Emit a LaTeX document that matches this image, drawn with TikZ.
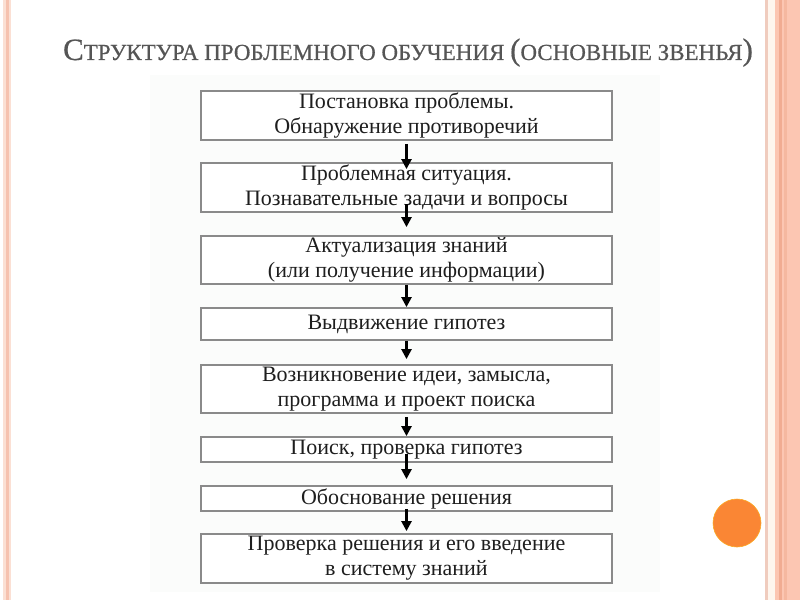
\documentclass[tikz,border=0pt]{standalone}
\usepackage{fontspec}
\setmainfont{Liberation Serif}[FakeBold=0.6]
\newfontfamily\plainserif{Liberation Serif}
\usetikzlibrary{arrows.meta}
\definecolor{boxline}{HTML}{8A8A8A}
\definecolor{txt}{HTML}{1E1E1E}
\definecolor{titlegray}{HTML}{555555}
\definecolor{stripeA}{HTML}{FBE0D4}
\definecolor{stripeB}{HTML}{F6C2AF}
\definecolor{bandA}{HTML}{FCC6B2}
\definecolor{bandB}{HTML}{F1AC92}
\definecolor{bandC}{HTML}{F5B8A0}
\definecolor{cream}{HTML}{FEF6EE}
\definecolor{thinline}{HTML}{F0CCBE}
\definecolor{dot}{HTML}{FA8634}
\definecolor{panel}{HTML}{FBFCFB}
\tikzset{
  stepbox/.style={draw=boxline, line width=1.8bp, fill=white, minimum width=411bp,
    inner sep=0pt, align=center, text=txt, font=\plainserif\fontsize{22bp}{25bp}\selectfont},
  flow/.style={line width=2.4bp, draw=black, -{Triangle[width=10bp,length=10bp]}}
}
\begin{document}
\begin{tikzpicture}[x=1bp,y=-1bp]
\useasboundingbox (0,0) rectangle (800,600);
\fill[white] (0,0) rectangle (800,600);
% decorative stripes
\fill[stripeA] (3,0) rectangle (11,600);
\fill[stripeB] (6,0) rectangle (9,600);
\fill[thinline] (765,0) rectangle (768,600);
\fill[cream] (768,0) rectangle (775,600);
\fill[bandA] (775,0) rectangle (800,600);
\fill[bandB] (779,0) rectangle (782,600);
\fill[bandC] (784,0) rectangle (787,600);
% faint panel
\fill[panel] (150,75) rectangle (660,592);
% title
\node[anchor=base, text=titlegray, inner sep=0] (title) at (408,60)
  {{\fontsize{31bp}{31bp}\selectfont С}{\fontsize{23bp}{23bp}\selectfont ТРУКТУРА ПРОБЛЕМНОГО ОБУЧЕНИЯ }{\fontsize{31bp}{31bp}\selectfont (}{\fontsize{23bp}{23bp}\selectfont ОСНОВНЫЕ ЗВЕНЬЯ}{\fontsize{31bp}{31bp}\selectfont )}};
% boxes
\node[stepbox, minimum height=49bp] (b1) at (406.5,115.5) {Постановка проблемы.\\Обнаружение противоречий};
\node[stepbox, minimum height=49bp] (b2) at (406.5,187.5) {Проблемная ситуация.\\Познавательные задачи и вопросы};
\node[stepbox, minimum height=48bp] (b3) at (406.5,260) {Актуализация знаний\\(или получение информации)};
\node[stepbox, minimum height=32bp] (b4) at (406.5,324) {Выдвижение гипотез};
\node[stepbox, minimum height=48bp] (b5) at (406.5,389) {Возникновение идеи, замысла,\\программа и проект поиска};
\node[stepbox, minimum height=25bp] (b6) at (406.5,449.5) {Поиск, проверка гипотез};
\node[stepbox, minimum height=25bp] (b7) at (406.5,498.5) {Обоснование решения};
\node[stepbox, minimum height=49bp] (b8) at (406.5,558.5) {Проверка решения и его введение\\в систему знаний};
% arrows
\draw[flow] ([yshift=-3bp]b1.south) -- ([yshift=-7bp]b2.north);
\draw[flow] ([yshift=9bp]b2.south) -- ([yshift=8bp]b3.north);
\draw[flow] (b3.south) -- (b4.north);
\draw[flow] (b4.south) -- ([yshift=5bp]b5.north);
\draw[flow] ([yshift=-3bp]b5.south) -- (b6.north);
\draw[flow] ([yshift=9bp]b6.south) -- ([yshift=6bp]b7.north);
\draw[flow] ([yshift=3bp]b7.south) -- ([yshift=2bp]b8.north);
% orange dot
\node[circle, fill=dot, draw=dot!70!yellow, line width=0.6bp, minimum size=48bp, inner sep=0] (dotc) at (737,523) {};
\end{tikzpicture}
\end{document}
